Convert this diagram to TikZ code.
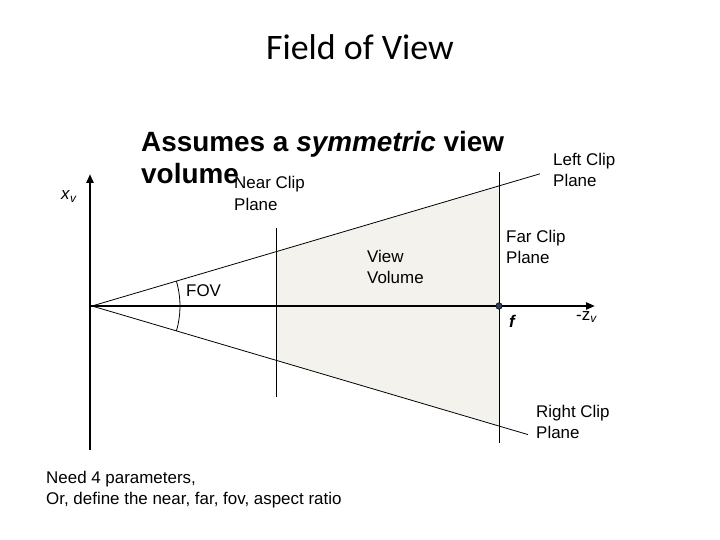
\documentclass[tikz,border=0pt]{standalone}
\usepackage{fontspec}
\setmainfont{Liberation Sans}
\newfontfamily\carlito{Carlito}
\usetikzlibrary{arrows.meta}
\definecolor{volfill}{RGB}{244,242,236}
\definecolor{dotcol}{RGB}{45,62,85}
\begin{document}
\begin{tikzpicture}[x=1bp,y=-1bp,
  lbl/.style={anchor=base west,inner sep=0pt,font=\fontsize{17}{20}\selectfont},
  axis/.style={line width=2.6bp,-{Triangle[length=9bp,width=7bp]}},
  thin line/.style={line width=0.8bp}]
\useasboundingbox (0,0) rectangle (720,540);
% key points
\coordinate (O) at (92,306);
\coordinate (L) at (540,173.8);
\coordinate (R) at (528,434.6);
\coordinate (nu) at (276,251.7);
\coordinate (nl) at (276,360.3);
\coordinate (fu) at (499,185.9);
\coordinate (fl) at (499,426.1);
\coordinate (ntop) at (276,228);
\coordinate (nbot) at (276,397);
\coordinate (ftop) at (499,172);
\coordinate (fbot) at (499,443);
\coordinate (ybot) at (90,450);
\coordinate (ytop) at (90,174);
\coordinate (xbeg) at (90,306);
\coordinate (xend) at (595,306);
\coordinate (a1) at (176.4,281.2);
% view volume
\fill[volfill] (nu) -- (fu) -- (fl) -- (nl) -- cycle;
% planes
\draw[thin line] (ntop) -- (nbot);
\draw[thin line] (ftop) -- (fbot);
\draw[thin line] (O) -- (L);
\draw[thin line] (O) -- (R);
% axes
\draw[axis] (ybot) -- (ytop);
\draw[axis] (xbeg) -- (xend);
% FOV arc
\draw[line width=0.8bp] (a1) arc[start angle=16.4,end angle=-16.4,radius=88bp];
% focal point
\filldraw[fill=dotcol,draw=black,line width=0.5bp] (499,306) circle (3.3bp);
% texts
\node[anchor=base,inner sep=0pt,font=\carlito\fontsize{36}{40}\selectfont] (title) at (360,60) {Field of View};
\node[anchor=base west,inner sep=0pt,font=\bfseries\fontsize{28}{30}\selectfont] (as1) at (141,152) {Assumes a \textit{symmetric} view};
\node[anchor=base west,inner sep=0pt,font=\bfseries\fontsize{28}{30}\selectfont] (as2) at (141,184) {volume};
\node[lbl] (near1) at (234,189) {Near Clip};
\node[lbl] (near2) at (234,211) {Plane};
\node[lbl] (xv) at (61,200) {\textit{x}\textsubscript{\textit{v}}};
\node[lbl] (fov) at (186,296) {FOV};
\node[lbl] (vv1) at (367,263) {View};
\node[lbl] (vv2) at (367,284) {Volume};
\node[lbl] (lc1) at (553,166) {Left Clip};
\node[lbl] (lc2) at (553,187) {Plane};
\node[lbl] (fc1) at (506,243) {Far Clip};
\node[lbl] (fc2) at (506,264) {Plane};
\node[lbl] (f) at (509,327) {\textbf{\textit{f}}};
\node[lbl] (zv) at (576,320) {-z\textsubscript{\textit{v}}};
\node[lbl] (rc1) at (536,417) {Right Clip};
\node[lbl] (rc2) at (536,438) {Plane};
\node[lbl] (nd1) at (46,483) {Need 4 parameters,};
\node[lbl] (nd2) at (46,504) {Or, define the near, far, fov, aspect ratio};
\end{tikzpicture}
\end{document}
